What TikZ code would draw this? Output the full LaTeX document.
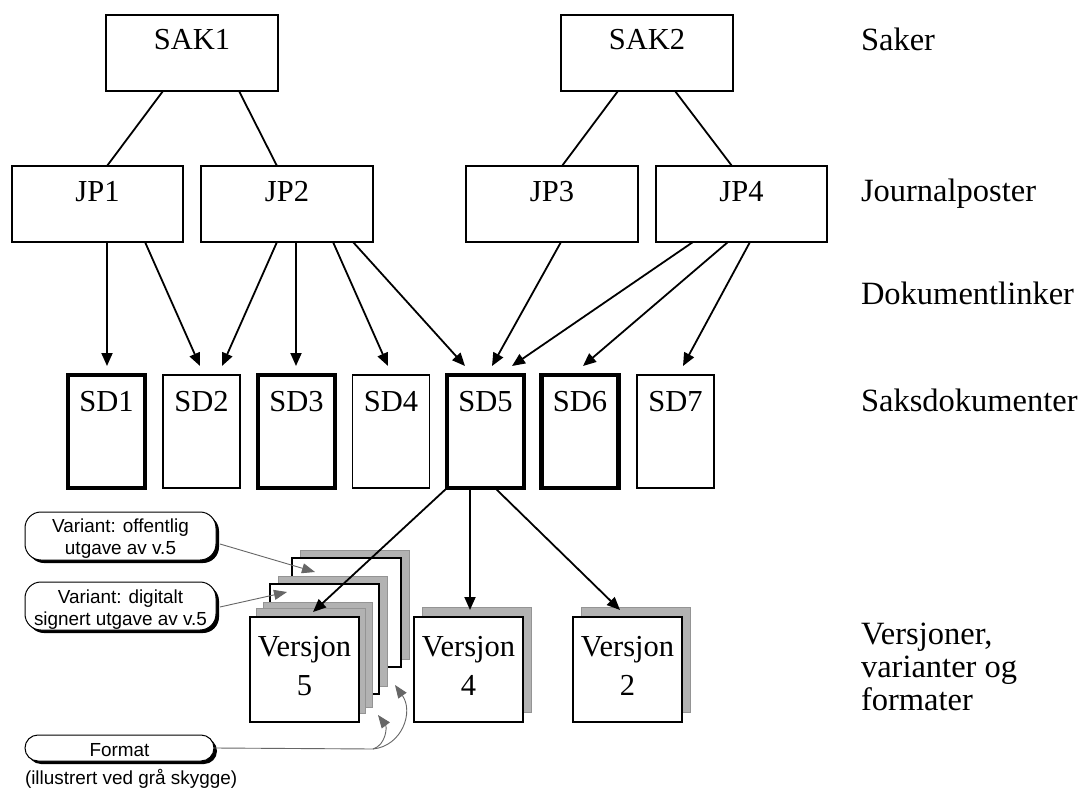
\documentclass[tikz,border=0pt]{standalone}
\usepackage{fontspec}
\setmainfont{Liberation Serif}
\newfontfamily\calloutfont{Liberation Sans}
\usetikzlibrary{arrows.meta,calc}
\begin{document}
\begin{tikzpicture}[x=1pt,y=-1pt,
  every node/.style={inner sep=0pt,outer sep=0pt},
  caseframe/.style={draw,line width=1.8pt,fill=white,minimum width=172pt,minimum height=76pt},
  docthick/.style={draw,line width=4.8pt,fill=white,minimum width=77pt,minimum height=113pt},
  docthin/.style={draw,line width=1.6pt,fill=white,minimum width=77pt,minimum height=113pt},
  verpage/.style={draw,line width=2pt,fill=white,minimum width=109pt,minimum height=#1},
  grayshade/.style={fill=black!30,draw=black!42,line width=0.7pt,minimum width=109pt,minimum height=#1},
  rmtext/.style={font=\fontsize{30.5}{36}\selectfont},
  leveltext/.style={font=\fontsize{32.5}{38}\selectfont},
  sftext/.style={font=\calloutfont\fontsize{18.9}{22.5}\selectfont},
  callout/.style={draw=black,line width=1pt,fill=white,rounded corners=#1,minimum width=191pt},
  calloutshade/.style={fill=black,rounded corners=#1,minimum width=191pt},
  link/.style={line width=1.8pt},
  arr/.style={line width=1.8pt,-{Triangle[length=13pt,width=11pt]}},
  grayarr/.style={draw=black!60,line width=0.9pt,-{Triangle[length=13pt,width=10pt,fill=black!60]}}
]
\path[use as bounding box,fill=white] (0,0) rectangle (1080,789);

% ---- cases ----
\node[caseframe] (sak1) at (192,53) {};
\node[caseframe] (sak2) at (647,53) {};
\node[rmtext,anchor=base] (sak1t) at ($(sak1.north)+(0,35)$) {SAK1};
\node[rmtext,anchor=base] (sak2t) at ($(sak2.north)+(0,35)$) {SAK2};

% ---- registry entries ----
\node[caseframe,minimum width=171pt] (jp1) at (97.5,204) {};
\node[caseframe] (jp2) at (287,204) {};
\node[caseframe] (jp3) at (552,204) {};
\node[caseframe,minimum width=171pt] (jp4) at (741.5,204) {};
\foreach \n/\t in {jp1/JP1,jp2/JP2,jp3/JP3,jp4/JP4}
  \node[rmtext,anchor=base] (\n t) at ($(\n.north)+(0,35)$) {\t};

% ---- case documents ----
\node[docthick] (sd1) at (106.5,431.5) {};
\node[docthin]  (sd2) at (201.5,431.5) {};
\node[docthick] (sd3) at (296.5,431.5) {};
\node[docthin]  (sd4) at (391,431.5) {};
\node[docthick] (sd5) at (485.5,431.5) {};
\node[docthick] (sd6) at (580,431.5) {};
\node[docthin]  (sd7) at (675.5,431.5) {};
\foreach \n/\t in {sd1/SD1,sd2/SD2,sd3/SD3,sd4/SD4,sd5/SD5,sd6/SD6,sd7/SD7}
  \node[rmtext,anchor=base] (\n t) at ($(\n.north)+(0,36.5)$) {\t};

% ---- variants of version 5 (back to front), with format shadows ----
\node[grayshade=109pt] (var3s) at (354.5,604.5) {};
\node[verpage=109pt]   (var3)  at (346.5,612.5) {};
\node[grayshade=110pt] (var2s) at (332.5,631) {};
\node[verpage=110pt]   (var2)  at (324.5,639) {};
\node[grayshade=105pt] (v5sb)  at (317.5,654.5) {};
\node[grayshade=105pt] (v5sa)  at (310.5,660.5) {};
\node[verpage=105pt]   (v5)    at (304.5,669.5) {};

% ---- versions 4 and 2 ----
\node[grayshade=105pt] (v4s) at (476.5,660) {};
\node[verpage=105pt]   (v4)  at (468.5,669.5) {};
\node[grayshade=105pt] (v2s) at (635.5,660) {};
\node[verpage=105pt]   (v2)  at (627.5,669.5) {};
\foreach \n/\k in {v5/5,v4/4,v2/2}{
  \node[rmtext,anchor=base] (\n a) at ($(\n.north)+(0,39.5)$) {Versjon};
  \node[rmtext,anchor=base] (\n b) at ($(\n.north)+(0,78)$) {\k};
}

% ---- level labels ----
\node[leveltext,anchor=base west] (lsak)  at (861,51)  {Saker};
\node[leveltext,anchor=base west] (ljp)   at (861,202) {Journalposter};
\node[leveltext,anchor=base west] (llink) at (861,304) {Dokumentlinker};
\node[leveltext,anchor=base west] (lsd)   at (861,411) {Saksdokumenter};
\node[leveltext,anchor=base west] (lv1)   at (861,644) {Versjoner,};
\node[leveltext,anchor=base west] (lv2)   at (861,677) {varianter og};
\node[leveltext,anchor=base west] (lv3)   at (861,710) {formater};

% ---- callouts ----
\node[calloutshade=16pt,minimum height=48pt] (cb1s) at (123.5,539) {};
\node[callout=16pt,minimum height=48pt] (cb1) at (120.5,536) {};
\node[sftext,anchor=base] (cb1a) at ($(cb1.north)+(0,20.5)$) {Variant: offentlig};
\node[sftext,anchor=base] (cb1b) at ($(cb1.north)+(0,42.5)$) {utgave av v.5};

\node[calloutshade=16pt,minimum height=48pt] (cb2s) at (123.5,609) {};
\node[callout=16pt,minimum height=48pt] (cb2) at (120.5,606) {};
\node[sftext,anchor=base] (cb2a) at ($(cb2.north)+(0,21)$) {Variant: digitalt};
\node[sftext,anchor=base] (cb2b) at ($(cb2.north)+(0,43)$) {signert utgave av v.5};

\node[calloutshade=13pt,minimum width=189pt,minimum height=26pt] (fmts) at (122.5,751) {};
\node[callout=13pt,minimum width=189pt,minimum height=26pt] (fmt) at (119.5,748) {};
\node[sftext,anchor=base] (fmtt) at ($(fmt.north)+(0,21)$) {Format};
\node[sftext,anchor=base west] (fmtnote) at (25,784) {(illustrert ved grå skygge)};

% ---- case to registry entry ----
\draw[link] ($(sak1.south)+(-29,0)$) -- ($(jp1.north)+(9.5,0)$);
\draw[link] ($(sak1.south)+(47,0)$)  -- ($(jp2.north)+(-10,0)$);
\draw[link] ($(sak2.south)+(-29,0)$) -- ($(jp3.north)+(10,0)$);
\draw[link] ($(sak2.south)+(28,0)$)  -- ($(jp4.north)+(-9.5,0)$);

% ---- document links ----
\draw[arr] ($(jp1.south)+(9.5,0)$)  -- ($(sd1.north)+(0.5,-9)$);
\draw[arr] ($(jp1.south)+(47.5,0)$) -- ($(sd2.north)+(-1.5,-9)$);
\draw[arr] ($(jp2.south)+(-10,0)$)  -- ($(sd2.north)+(20.5,-9)$);
\draw[arr] ($(jp2.south)+(9,0)$)    -- ($(sd3.north)+(-0.5,-9)$);
\draw[arr] ($(jp2.south)+(46,0)$)   -- ($(sd4.north)+(-3,-9)$);
\draw[arr] ($(jp2.south)+(66,0)$)   -- ($(sd5.north)+(-20.5,-9)$);
\draw[arr] ($(jp3.south)+(9,0)$)    -- ($(sd5.north)+(6.5,-9)$);
\draw[arr] ($(jp4.south)+(-48.5,0)$) -- ($(sd5.north)+(26.5,-9)$);
\draw[arr] ($(jp4.south)+(-13.5,0)$) -- ($(sd6.north)+(3,-9)$);
\draw[arr] ($(jp4.south)+(8.5,0)$)  -- ($(sd7.north)+(7.5,-9)$);

% ---- document to versions ----
\draw[arr] (sd5.south west) -- ($(v5.north)+(8.5,-5)$);
\draw[arr] ($(sd5.south)+(-15.5,0)$) -- ($(v4.north)+(1.5,-7)$);
\draw[arr] ($(sd5.south)+(9.5,0)$) -- ($(v2.north)+(-7.5,-7)$);

% ---- callout pointers ----
\draw[grayarr] ($(cb1.east)+(4,8)$) -- ($(var3.north west)+(23,14)$);
\draw[grayarr] ($(cb2.east)+(4,1)$) -- ($(var2.north west)+(17,8)$);
\coordinate (fmtjoin) at ($(fmt.east)+(159,1)$);
\draw[draw=black!60,line width=0.9pt] (fmt.east) -- (fmtjoin);
\draw[grayarr] (fmtjoin) .. controls ($(fmtjoin)+(13,-4)$) and ($(fmtjoin)+(14,-22)$) .. ($(v5.south east)+(19,-7)$);
\draw[grayarr] (fmtjoin) .. controls ($(fmtjoin)+(29,-3)$) and ($(fmtjoin)+(41,-37)$) .. ($(var2.south east)+(16,-9)$);
\end{tikzpicture}
\end{document}
